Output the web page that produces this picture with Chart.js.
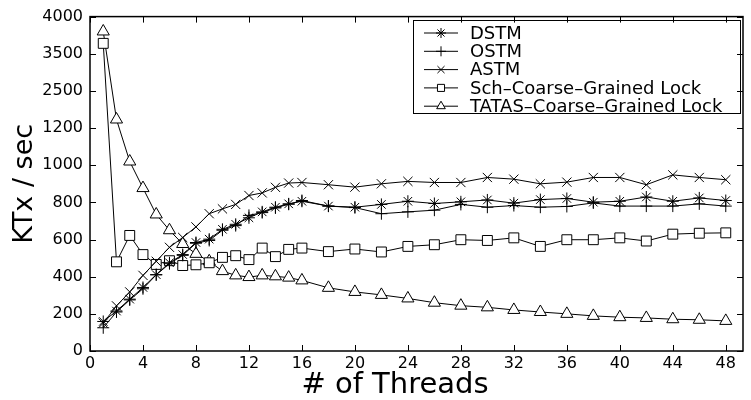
<!DOCTYPE html>
<html>
<head>
<meta charset="utf-8">
<script src="https://cdn.jsdelivr.net/npm/chart.js@4.4.1/dist/chart.umd.min.js"></script>
<style>
    html, body { margin: 0; padding: 0; background: #fff; }
    #wrap { width: 751px; height: 400px; }
</style>
</head>
<body>
<div id="wrap"><canvas id="chart" width="751" height="400"></canvas></div>
<script>
'use strict';

// thread counts on the x axis
const threads = [1, 2, 3, 4, 5, 6, 7, 8, 9, 10, 11, 12, 13, 14, 15, 16,
    18, 20, 22, 24, 26, 28, 30, 32, 34, 36, 38, 40, 42, 44, 46, 48];

// KTx / sec per series
const dstm = [159, 215, 279, 342, 411, 475, 519, 584, 602, 655, 682, 717, 749, 774, 792, 806,
    780, 774, 789, 806, 794, 803, 813, 796, 815, 821, 801, 806, 829, 806, 824, 810];
const ostm = [125, 210, 275, 335, 410, 470, 515, 580, 595, 650, 675, 730, 745, 770, 790, 810,
    780, 772, 739, 749, 758, 789, 774, 783, 774, 778, 797, 780, 780, 780, 792, 780];
const astm = [150, 243, 318, 407, 483, 558, 611, 668, 739, 765, 789, 837, 851, 881, 904, 907,
    895, 882, 900, 913, 907, 907, 934, 925, 900, 909, 934, 934, 895, 948, 934, 922];
const schLock = [3640, 480, 622, 519, 466, 486, 460, 464, 475, 504, 513, 492, 554, 508, 547, 554,
    535, 549, 533, 563, 572, 599, 595, 609, 563, 599, 599, 609, 592, 629, 634, 636];
const tatasLock = [3800, 1500, 1020, 877, 735, 650, 576, 523, 483, 430, 407, 398, 407, 402, 395, 380,
    340, 318, 302, 283, 260, 244, 235, 221, 210, 200, 189, 182, 178, 171, 168, 162];

// the y axis is broken: each label sits one step apart
const yTickLabels = [0, 200, 400, 600, 800, 1000, 1200, 2500, 3500, 4000];
const xTickLabels = [0, 4, 8, 12, 16, 20, 24, 28, 32, 36, 40, 44, 48];

const FONT = 'DejaVu Sans';

// value -> position on the broken axis (piecewise between labels)
function toAxis(v) {
    for (let i = 0; i < yTickLabels.length - 1; i++) {
        const a = yTickLabels[i], b = yTickLabels[i + 1];
        if (v <= b) return i + (v - a) / (b - a);
    }
    return yTickLabels.length - 1;
}

const series = [
    { label: 'DSTM', data: dstm, style: 'star', radius: 6 },
    { label: 'OSTM', data: ostm, style: 'cross', radius: 6 },
    { label: 'ASTM', data: astm, style: 'crossRot', radius: 6.5 },
    { label: 'Sch\u2013Coarse\u2013Grained Lock', data: schLock, style: 'rect', radius: 7 },
    { label: 'TATAS\u2013Coarse\u2013Grained Lock', data: tatasLock, style: 'triangle', radius: 7 }
];

const datasets = series.map(s => ({
    label: s.label,
    data: threads.map((t, i) => ({ x: t, y: toAxis(s.data[i]) })),
    borderColor: '#000',
    borderWidth: 1,
    pointStyle: s.style,
    pointRadius: s.radius,
    pointBorderColor: '#000',
    pointBackgroundColor: '#fff',
    pointBorderWidth: 1,
    tension: 0,
    clip: false
}));

// frame with inward ticks on all four sides
const framePlugin = {
    id: 'frame',
    beforeDatasetsDraw(chart) {
        const { ctx, chartArea: a, scales } = chart;
        ctx.save();
        ctx.strokeStyle = '#000';
        ctx.lineWidth = 1.5;
        ctx.strokeRect(a.left, a.top, a.right - a.left, a.bottom - a.top);
        ctx.lineWidth = 1;
        ctx.beginPath();
        xTickLabels.forEach(v => {
            const x = Math.round(scales.x.getPixelForValue(v)) + 0.5;
            ctx.moveTo(x, a.bottom); ctx.lineTo(x, a.bottom - 6);
            ctx.moveTo(x, a.top); ctx.lineTo(x, a.top + 6);
        });
        yTickLabels.forEach((v, i) => {
            const y = Math.round(scales.y.getPixelForValue(i)) + 0.5;
            ctx.moveTo(a.left, y); ctx.lineTo(a.left + 6, y);
            ctx.moveTo(a.right, y); ctx.lineTo(a.right - 6, y);
        });
        ctx.stroke();
        ctx.restore();
    }
};

// boxed legend inside the plot, line + marker per entry; x axis title
const legendPlugin = {
    id: 'boxLegend',
    afterDraw(chart) {
        const ctx = chart.ctx;
        ctx.save();
        ctx.strokeStyle = '#000';
        ctx.lineWidth = 1;
        ctx.strokeRect(413.5, 20.5, 327, 93);
        ctx.font = '18px "' + FONT + '"';
        ctx.textBaseline = 'middle';
        ctx.fillStyle = '#000';
        series.forEach((s, i) => {
            const y = 33 + i * 18.3;
            ctx.beginPath();
            ctx.moveTo(424, y); ctx.lineTo(458, y);
            ctx.stroke();
            ctx.fillStyle = '#fff';
            Chart.helpers.drawPoint(ctx, { pointStyle: s.style, radius: 5, rotation: 0, borderWidth: 1 }, 441, y);
            ctx.fillStyle = '#000';
            ctx.fillText(s.label, 470, y + 1);
        });

        ctx.font = '29px "' + FONT + '"';
        ctx.textAlign = 'center';
        ctx.fillText('# of Threads', 395, 385);
        ctx.restore();
    }
};

new Chart(document.getElementById('chart').getContext('2d'), {
    type: 'line',
    data: { datasets: datasets },
    options: {
        responsive: false,
        animation: false,
        events: [],
        layout: { padding: { top: 13, right: 1, left: 0, bottom: 0 } },
        plugins: {
            legend: { display: false },
            tooltip: { enabled: false }
        },
        scales: {
            x: {
                type: 'linear',
                min: 0,
                max: 49.3,
                grid: { display: false, drawTicks: false },
                border: { display: false },
                ticks: {
                    stepSize: 4,
                    includeBounds: false,
                    autoSkip: false,
                    maxRotation: 0,
                    color: '#000',
                    padding: 3,
                    font: { family: FONT, size: 16 },
                    callback: v => xTickLabels.includes(v) ? String(v) : ''
                },
                afterFit: scale => { scale.height = 49; }
            },
            y: {
                type: 'linear',
                min: 0,
                max: yTickLabels.length - 1,
                grid: { display: false, drawTicks: false },
                border: { display: false },
                ticks: {
                    stepSize: 1,
                    autoSkip: false,
                    color: '#000',
                    padding: 7,
                    font: { family: FONT, size: 16 },
                    callback: v => yTickLabels[v] !== undefined ? String(yTickLabels[v]) : ''
                },
                title: {
                    display: true,
                    text: 'KTx / sec',
                    color: '#000',
                    font: { family: FONT, size: 27 },
                    padding: { top: 9, bottom: 0 }
                },
                afterFit: scale => { scale.width = 90; }
            }
        }
    },
    plugins: [framePlugin, legendPlugin]
});
</script>
</body>
</html>
